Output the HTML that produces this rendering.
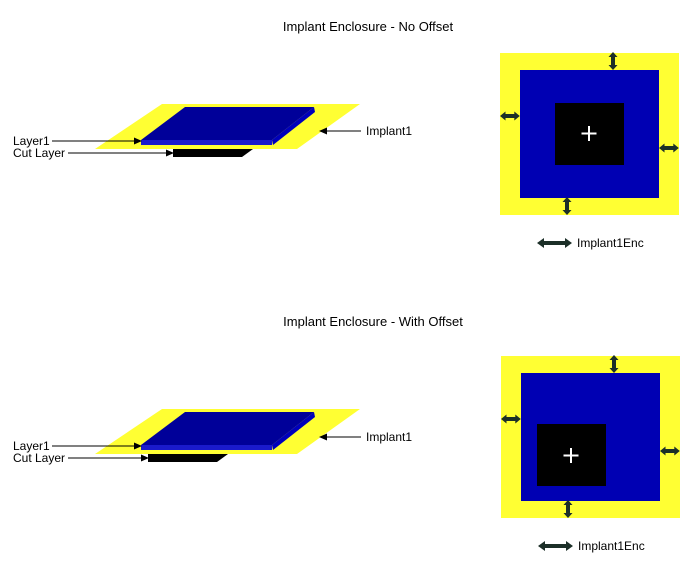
<!DOCTYPE html>
<html><head><meta charset="utf-8"><style>
html,body{margin:0;padding:0;background:#fff;}
svg{display:block;font-family:"Liberation Sans",Arial,sans-serif;}
</style></head><body>
<svg width="695" height="562" viewBox="0 0 695 562">
<defs>
<marker id="ah" markerWidth="8" markerHeight="8" refX="7" refY="4" orient="auto" markerUnits="userSpaceOnUse"><path d="M0,0.5 L8,4 L0,7.5 Z" fill="#000"/></marker>
<g id="dbl"><rect x="5" y="-2" width="25" height="4" fill="#1c2f28"/><path d="M0,0 L7,-5 L7,5 Z M35,0 L28,-5 L28,5 Z" fill="#1c2f28"/></g>
<g id="sdbl"><rect x="4" y="-2" width="10" height="4" fill="#1c2f28"/><path d="M0,0 L5,-4.5 L5,4.5 Z M18,0 L13,-4.5 L13,4.5 Z" fill="#1c2f28"/></g>
</defs>

<g>
<text x="368" y="31" font-size="13" text-anchor="middle" fill="#000">Implant Enclosure - No Offset</text>
<polygon points="162,104 360,104 297,149 95,149" fill="#ffff33"/>
<polygon points="185,107 314,107 272,140 141,140" fill="#000099"/>
<polygon points="141,140 272,140 272,145 141,145" fill="#1a1acc"/>
<polygon points="314,107 315,112 273,145 272,140" fill="#0000bb"/>
<polygon points="173,149 253,149 242,157 173,157" fill="#000"/>
<text x="13" y="145" font-size="12">Layer1</text>
<line x1="52" y1="141" x2="141" y2="141" stroke="#000" marker-end="url(#ah)"/>
<text x="13" y="157" font-size="12">Cut Layer</text>
<line x1="68" y1="153" x2="173" y2="153" stroke="#000" marker-end="url(#ah)"/>
<text x="366" y="135" font-size="12">Implant1</text>
<line x1="361" y1="131" x2="320" y2="131" stroke="#000" marker-end="url(#ah)"/>

<rect x="500" y="53" width="179" height="162" fill="#ffff33"/>
<rect x="520" y="70" width="139" height="128" fill="#0000b3"/>
<rect x="555" y="103" width="69" height="62" fill="#000"/>
<path d="M589,126 V141 M581.5,133.5 H596.5" stroke="#fff" stroke-width="2"/>
<use href="#sdbl" transform="translate(613,52) rotate(90)"/>
<use href="#sdbl" transform="translate(500,116) scale(1.1,1)"/>
<use href="#sdbl" transform="translate(659,148) scale(1.1,1)"/>
<use href="#sdbl" transform="translate(567,197) rotate(90)"/>
<use href="#dbl" transform="translate(537,243)"/>
<text x="577" y="247" font-size="12">Implant1Enc</text>
</g>

<g>
<text x="373" y="326" font-size="13" text-anchor="middle" fill="#000">Implant Enclosure - With Offset</text>
<polygon points="162,409 360,409 297,454 95,454" fill="#ffff33"/>
<polygon points="185,412 314,412 272,445 141,445" fill="#000099"/>
<polygon points="141,445 272,445 272,450 141,450" fill="#1a1acc"/>
<polygon points="314,412 315,417 273,450 272,445" fill="#0000bb"/>
<polygon points="148,454 228,454 217,462 148,462" fill="#000"/>
<text x="13" y="450" font-size="12">Layer1</text>
<line x1="52" y1="446" x2="141" y2="446" stroke="#000" marker-end="url(#ah)"/>
<text x="13" y="462" font-size="12">Cut Layer</text>
<line x1="68" y1="458" x2="148" y2="458" stroke="#000" marker-end="url(#ah)"/>
<text x="366" y="441" font-size="12">Implant1</text>
<line x1="361" y1="437" x2="320" y2="437" stroke="#000" marker-end="url(#ah)"/>

<rect x="501" y="356" width="179" height="162" fill="#ffff33"/>
<rect x="521" y="373" width="139" height="128" fill="#0000b3"/>
<rect x="537" y="424" width="69" height="62" fill="#000"/>
<path d="M571,448 V463 M563.5,455.5 H578.5" stroke="#fff" stroke-width="2"/>
<use href="#sdbl" transform="translate(614,355) rotate(90)"/>
<use href="#sdbl" transform="translate(501,419) scale(1.1,1)"/>
<use href="#sdbl" transform="translate(660,451) scale(1.1,1)"/>
<use href="#sdbl" transform="translate(568,500) rotate(90)"/>
<use href="#dbl" transform="translate(538,546)"/>
<text x="578" y="550" font-size="12">Implant1Enc</text>
</g>
</svg>
</body></html>
